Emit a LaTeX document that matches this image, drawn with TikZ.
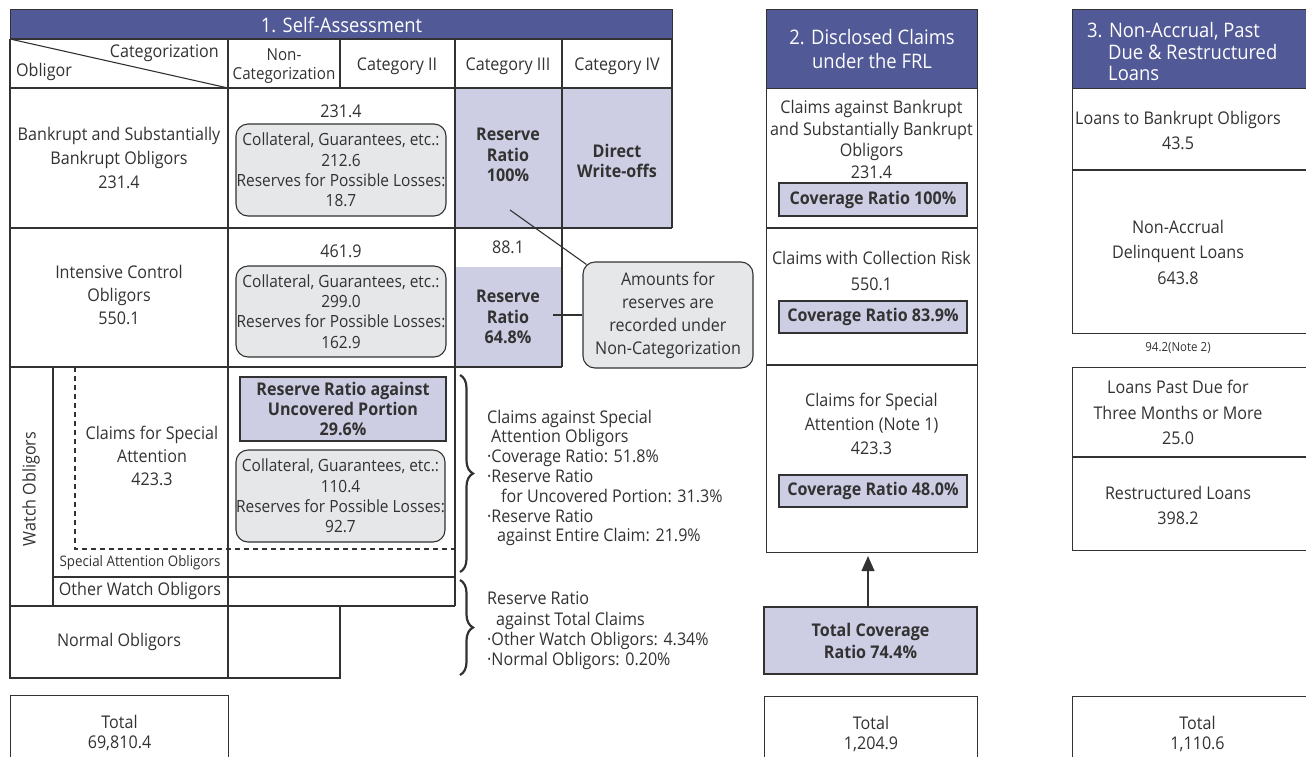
\documentclass[tikz,border=0pt]{standalone}
\usepackage{fontspec}
\setmainfont{Open Sans}[FakeStretch=0.92]
\usepackage{tikz}
\usetikzlibrary{arrows.meta,decorations.pathreplacing}
\definecolor{hdrblue}{RGB}{81,89,150}
\definecolor{lavender}{RGB}{205,205,228}
\definecolor{softgray}{RGB}{230,231,233}
\definecolor{ink}{RGB}{50,50,50}
\newcommand\fs{\fontsize{17.5}{23}\selectfont}
\newcommand\fsb{\fontsize{17.5}{20.3}\selectfont}
\newcommand\fsg{\fontsize{16.8}{20.3}\selectfont}
\newcommand\fh{\fontsize{20}{24}\selectfont}
\newcommand\fsm{\fontsize{14.5}{18}\selectfont}

\begin{document}
\begin{tikzpicture}[x=1pt, y=-1pt,
    every node/.style={font=\fs, text=ink, inner sep=0pt, align=center},
    thinline/.style={draw=ink, line width=1.1pt},
    thickline/.style={draw=ink, line width=2.4pt},
    hdrbox/.style={fill=hdrblue, draw=ink, line width=1.1pt, anchor=north west},
    hdrtext/.style={text=white, font=\fh},
    cellbox/.style={draw=ink, line width=1.1pt, anchor=north west},
    graybox/.style={draw=ink, line width=1.1pt, fill=softgray, rounded corners=12pt, font=\fsg},
    lavbox/.style={draw=ink, line width=1.1pt, fill=lavender, font=\fsb\bfseries},
    bracestyle/.style={draw=ink, line width=2.2pt, decorate, decoration={brace, amplitude=13pt}}]
  \useasboundingbox (0,0) rectangle (1306,756);

  % 1. self-assessment
  \node[hdrbox, minimum width=662, minimum height=30] (sahead) at (10,9) {};
  \node[hdrtext] (satitle) at (sahead.center) {1. Self-Assessment};
  \fill[lavender] (455,88) rectangle (672,228);
  \fill[lavender] (455,267) rectangle (562,367);
  \draw[thinline] (10,39) -- (672,39) -- (672,228);
  \draw[thinline] (10,39) -- (10,678) -- (340,678) -- (340,606);
  \draw[thinline] (228,39) -- (228,678);
  \draw[thinline] (340,39) -- (340,88);
  \draw[thinline] (455,39) -- (455,606);
  \draw[thinline] (562,39) -- (562,88);
  \draw[thinline] (562,228) -- (562,367);
  \draw[thickline] (562,88) -- (562,228);
  \draw[thinline] (10,39) -- (228,88);
  \draw[thickline] (10,88) -- (672,88);
  \draw[thickline] (10,228) -- (672,228);
  \draw[thickline] (10,367) -- (562,367);
  \draw[thickline] (53,367) -- (53,606);
  \draw[thickline] (53,577) -- (455,577);
  \draw[thickline] (10,606) -- (455,606);
  \draw[thinline, dash pattern=on 5pt off 4pt] (75,367) -- (75,549) -- (455,549);

  \node[anchor=east] (catg) at (219,53) {Categorization};
  \node[anchor=west] (oblg) at (16,72) {Obligor};
  \node[font=\fontsize{16.5}{19}\selectfont] (noncat) at (284,66.5) {Non-\\Categorization};
  \node (cat2) at (397,66) {Category II};
  \node (cat3) at (508,66) {Category III};
  \node (cat4) at (617,66) {Category IV};

  \node[font=\fontsize{17.5}{24}\selectfont] (bankr) at (119,158) {Bankrupt and Substantially\\Bankrupt Obligors\\231.4};
  \node (bankrnc) at (341,111) {231.4};
  \node[graybox, minimum width=210, minimum height=92] (bankrgray) at (341,170)
    {Collateral, Guarantees, etc.:\\212.6\\Reserves for Possible Losses:\\18.7};
  \node[font=\fsb\bfseries] (bankr3) at (508,155) {Reserve\\Ratio\\100\%};
  \node[font=\fsb\bfseries] (bankr4) at (617,161) {Direct\\Write-offs};

  \node (inten) at (119,295) {Intensive Control\\Obligors\\550.1};
  \node (intennc) at (341,251) {461.9};
  \node[graybox, minimum width=210, minimum height=91] (intengray) at (341,311.5)
    {Collateral, Guarantees, etc.:\\299.0\\Reserves for Possible Losses:\\162.9};
  \node (inten3a) at (508,247) {88.1};
  \node[font=\fsb\bfseries] (inten3) at (508,317) {Reserve\\Ratio\\64.8\%};

  \node[rotate=90] (watch) at (31,489) {Watch Obligors};
  \node (special) at (152,456) {Claims for Special\\Attention\\423.3};
  \node[font=\fsm] (specobl) at (140,563) {Special Attention Obligors};
  \node (otherw) at (140,591) {Other Watch Obligors};
  \node[lavbox, minimum width=206, minimum height=64] (uncov) at (343,409)
    {Reserve Ratio against\\Uncovered Portion\\29.6\%};
  \node[graybox, minimum width=209, minimum height=92] (specgray) at (340.5,496)
    {Collateral, Guarantees, etc.:\\110.4\\Reserves for Possible Losses:\\92.7};
  \node (normal) at (119,642) {Normal Obligors};
  \node[cellbox, minimum width=218, minimum height=75, font=\fsb] (satotal) at (10,695) {Total\\69,810.4};

  % callout
  \node[graybox, font=\fs, minimum width=170, minimum height=106] (note) at (668,315)
    {Amounts for\\reserves are\\recorded under\\Non-Categorization};
  \coordinate (notep1) at (510,210);
  \coordinate (notep2) at (553,315);
  \draw[thinline] (notep1) -- ([shift={(4,3)}]note.north west);
  \draw[thinline] (notep2) -- (note.west);

  % braces
  \coordinate (br1top) at (460,375);
  \coordinate (br1bot) at (460,572);
  \coordinate (br2top) at (460,580);
  \coordinate (br2bot) at (460,675);
  \draw[bracestyle] (br1top) -- (br1bot);
  \draw[bracestyle] (br2top) -- (br2bot);
  \node[anchor=west, align=left, font=\fontsize{17.5}{19.8}\selectfont] (br1text) at (487,478)
    {Claims against Special\\\hspace*{4pt}Attention Obligors\\·Coverage Ratio: 51.8\%\\·Reserve Ratio\\
     \hspace*{14pt}for Uncovered Portion: 31.3\%\\·Reserve Ratio\\\hspace*{10pt}against Entire Claim: 21.9\%};
  \node[anchor=west, align=left, font=\fontsize{17.5}{20.3}\selectfont] (br2text) at (487,631)
    {Reserve Ratio\\\hspace*{9pt}against Total Claims\\·Other Watch Obligors: 4.34\%\\·Normal Obligors: 0.20\%};

  % 2. disclosed claims
  \node[hdrbox, minimum width=211, minimum height=79] (frlhead) at (766,9) {};
  \node[hdrtext] (frltitle) at (frlhead.center) {2. Disclosed Claims\\under the FRL};
  \node[cellbox, minimum width=211, minimum height=464] (frlbody) at (766,88) {};
  \draw[thickline] (766,228) -- (977,228);
  \draw[thickline] (766,365) -- (977,365);
  \node[font=\fontsize{17.5}{21.5}\selectfont] (frl1) at (871.5,139.5)
    {Claims against Bankrupt\\and Substantially Bankrupt\\Obligors\\231.4};
  \node[lavbox, minimum width=188, minimum height=33] (cov1) at (873,199.5) {Coverage Ratio 100\%};
  \node[font=\fontsize{17.5}{26}\selectfont] (frl2) at (871.5,271) {Claims with Collection Risk\\550.1};
  \node[lavbox, minimum width=188, minimum height=32] (cov2) at (873,317) {Coverage Ratio 83.9\%};
  \node[font=\fontsize{17.5}{24}\selectfont] (frl3) at (871.5,424) {Claims for Special\\Attention (Note 1)\\423.3};
  \node[lavbox, minimum width=188, minimum height=32] (cov3) at (873,491) {Coverage Ratio 48.0\%};
  \node[lavbox, minimum width=213, minimum height=67, font=\fontsize{17.5}{22}\selectfont\bfseries] (totcov) at (870.5,640.5)
    {Total Coverage\\Ratio 74.4\%};
  \draw[line width=1.2pt, draw=ink, -{Triangle[length=15pt,width=13pt]}, shorten >=3pt]
    (totcov.north -| 868,0) -- (frlbody.south -| 868,0);
  \node[cellbox, minimum width=213, minimum height=75, font=\fsb] (frltotal) at (764,696) {Total\\1,204.9};

  % 3. non-accrual loans
  \node[hdrbox, minimum width=250, minimum height=79] (nalhead) at (1072,9) {};
  \node[hdrtext, anchor=west, align=left, font=\fontsize{20}{21.5}\selectfont] (naltitle) at (1087,51.5)
    {3. Non-Accrual, Past\\\hspace*{21pt}Due \& Restructured\\\hspace*{21pt}Loans};
  \node[cellbox, minimum width=250, minimum height=245] (nalbody) at (1072,88) {};
  \draw[thickline] (1072,170) -- (1322,170);
  \node[font=\fontsize{17.5}{25}\selectfont] (nal1) at (1178,130.5) {Loans to Bankrupt Obligors\\43.5};
  \node[font=\fontsize{17.5}{25.5}\selectfont] (nal2) at (1178,252) {Non-Accrual\\Delinquent Loans\\643.8};
  \node[font=\fontsize{12.5}{15}\selectfont] (nalnote) at (1178,348) {94.2(Note 2)};
  \node[cellbox, minimum width=250, minimum height=183] (nallow) at (1072,367) {};
  \draw[thickline] (1072,457) -- (1322,457);
  \node[font=\fontsize{17.5}{25.5}\selectfont] (nal3) at (1178,412.5) {Loans Past Due for\\Three Months or More\\25.0};
  \node[font=\fontsize{17.5}{25}\selectfont] (nal4) at (1178,505.5) {Restructured Loans\\398.2};
  \node[cellbox, minimum width=250, minimum height=75, font=\fsb] (naltotal) at (1072,696) {Total\\1,110.6};
\end{tikzpicture}
\end{document}
